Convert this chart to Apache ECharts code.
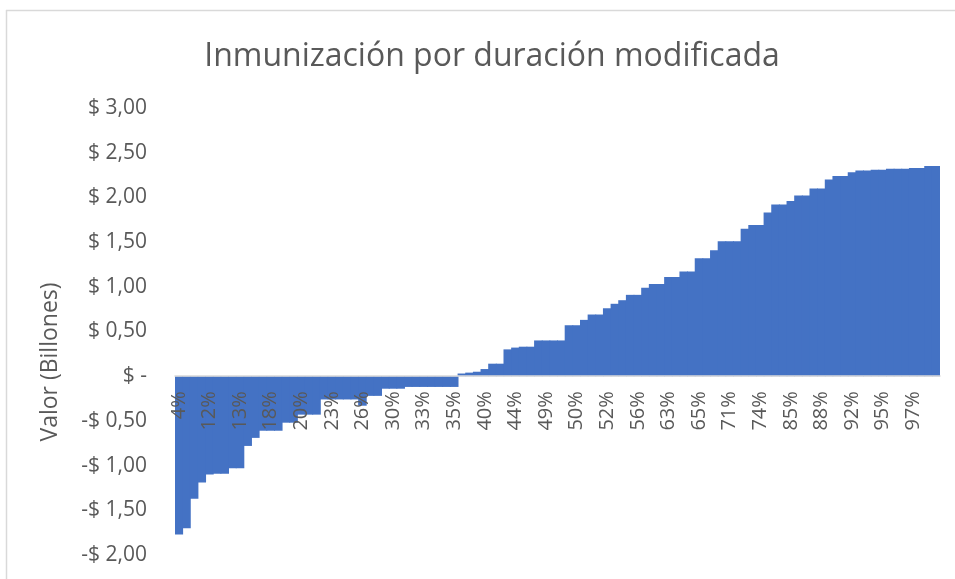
<!DOCTYPE html>
<html>
<head>
<meta charset="utf-8">
<script src="https://cdn.jsdelivr.net/npm/echarts@6/dist/echarts.min.js"></script>
<style>
  html, body { margin: 0; padding: 0; background: #ffffff; }
  #chart { width: 955px; height: 579px; }
</style>
</head>
<body>
<div id="chart"></div>
<script>
// Rate scenarios (sorted), one bar per scenario
const categories = [
  '4%', '6%', '8%', '10%', '12%', '12%', '12%', '13%', '13%', '15%',
  '16%', '17%', '18%', '18%', '19%', '19%', '20%', '21%', '21%', '22%',
  '23%', '24%', '24%', '25%', '26%', '27%', '28%', '29%', '30%', '31%',
  '32%', '32%', '33%', '34%', '34%', '35%', '35%', '37%', '38%', '39%',
  '40%', '41%', '42%', '43%', '44%', '46%', '47%', '48%', '49%', '49%',
  '50%', '50%', '50%', '51%', '51%', '52%', '52%', '54%', '55%', '55%',
  '56%', '58%', '60%', '62%', '63%', '64%', '64%', '65%', '65%', '67%',
  '69%', '70%', '71%', '72%', '73%', '73%', '74%', '77%', '80%', '83%',
  '85%', '86%', '86%', '87%', '88%', '89%', '90%', '91%', '92%', '93%',
  '93%', '94%', '95%', '95%', '96%', '96%', '97%', '98%', '99%', '100%'
];

// Portfolio value in billions for each scenario
const values = [
  -1.77, -1.70, -1.37, -1.19, -1.10, -1.09, -1.09, -1.03, -1.03, -0.78,
  -0.69, -0.61, -0.61, -0.61, -0.52, -0.52, -0.43, -0.43, -0.43, -0.26,
  -0.26, -0.26, -0.26, -0.26, -0.33, -0.22, -0.22, -0.14, -0.14, -0.14,
  -0.12, -0.12, -0.12, -0.12, -0.12, -0.12, -0.12, 0.03, 0.04, 0.05,
  0.08, 0.14, 0.14, 0.30, 0.32, 0.33, 0.33, 0.40, 0.40, 0.40,
  0.40, 0.57, 0.57, 0.63, 0.69, 0.69, 0.76, 0.81, 0.85, 0.91,
  0.91, 0.99, 1.03, 1.03, 1.11, 1.11, 1.17, 1.17, 1.32, 1.32,
  1.41, 1.51, 1.51, 1.51, 1.65, 1.69, 1.69, 1.83, 1.92, 1.92,
  1.96, 2.02, 2.02, 2.10, 2.10, 2.20, 2.24, 2.24, 2.28, 2.30,
  2.30, 2.31, 2.31, 2.32, 2.32, 2.32, 2.33, 2.33, 2.35, 2.35
];

// Value axis ticks and their accounting-style labels
const yTickValues = [-2, -1.5, -1, -0.5, 0, 0.5, 1, 1.5, 2, 2.5, 3];
const yTickLabels = ['-$ 2,00', '-$ 1,50', '-$ 1,00', '-$ 0,50', '$ -', '$ 0,50',
                     '$ 1,00', '$ 1,50', '$ 2,00', '$ 2,50', '$ 3,00'];

const chartTitle = 'Inmunización por duración modificada';
const yAxisTitle = 'Valor (Billones)';

const FONT = '"Open Sans", "Noto Sans", sans-serif';
const TEXT_COLOR = '#595959';
const BAR_COLOR = '#4472C4';

// Plot rectangle
const GRID = { left: 175, right: 15, top: 108, bottom: 24 };
const Y_MIN = -2, Y_MAX = 3;
const plotHeight = 579 - GRID.top - GRID.bottom;
// Category axis sits on the zero line: shift it up from the plot bottom
const zeroShift = plotHeight * (0 - Y_MIN) / (Y_MAX - Y_MIN);

const chart = echarts.init(document.getElementById('chart'), null, { renderer: 'canvas' });

chart.setOption({
  animation: false,
  backgroundColor: '#ffffff',
  title: {
    text: chartTitle,
    left: 487,
    textAlign: 'center',
    top: 36,
    textStyle: { fontFamily: FONT, fontSize: 32, fontWeight: 'normal', color: TEXT_COLOR }
  },
  grid: Object.assign({ containLabel: false, outerBoundsMode: 'none' }, GRID),
  xAxis: {
    type: 'category',
    data: categories,
    z: 5,
    offset: -zeroShift,
    axisLine: { onZero: false, lineStyle: { color: '#d9d9d9', width: 1.5 } },
    axisTick: { show: false },
    axisLabel: {
      interval: 3,
      rotate: 90,
      margin: 15,
      fontFamily: FONT,
      fontSize: 20,
      color: TEXT_COLOR
    },
    splitLine: { show: false }
  },
  yAxis: {
    type: 'value',
    min: Y_MIN,
    max: Y_MAX,
    interval: 0.5,
    axisLine: { show: false },
    axisTick: { show: false },
    splitLine: { show: false },
    axisLabel: {
      margin: 28,
      fontFamily: FONT,
      fontSize: 21,
      color: TEXT_COLOR,
      formatter: function (v) {
        const i = yTickValues.findIndex(t => Math.abs(t - v) < 1e-9);
        return i >= 0 ? yTickLabels[i] : '';
      }
    }
  },
  series: [{
    type: 'bar',
    data: values,
    barWidth: '112%',
    itemStyle: { color: BAR_COLOR }
  }],
  graphic: [
    {
      type: 'text',
      x: 50,
      y: 362,
      rotation: Math.PI / 2,
      style: {
        text: yAxisTitle,
        fontFamily: FONT,
        fontSize: 23,
        fill: TEXT_COLOR,
        align: 'center',
        verticalAlign: 'middle'
      }
    },
    {
      type: 'line',
      shape: { x1: 6.5, y1: 10, x2: 6.5, y2: 579 },
      style: { stroke: '#d9d9d9', lineWidth: 1.5 }
    },
    {
      type: 'line',
      shape: { x1: 6, y1: 10.5, x2: 955, y2: 10.5 },
      style: { stroke: '#d9d9d9', lineWidth: 1.5 }
    }
  ]
});
</script>
</body>
</html>
